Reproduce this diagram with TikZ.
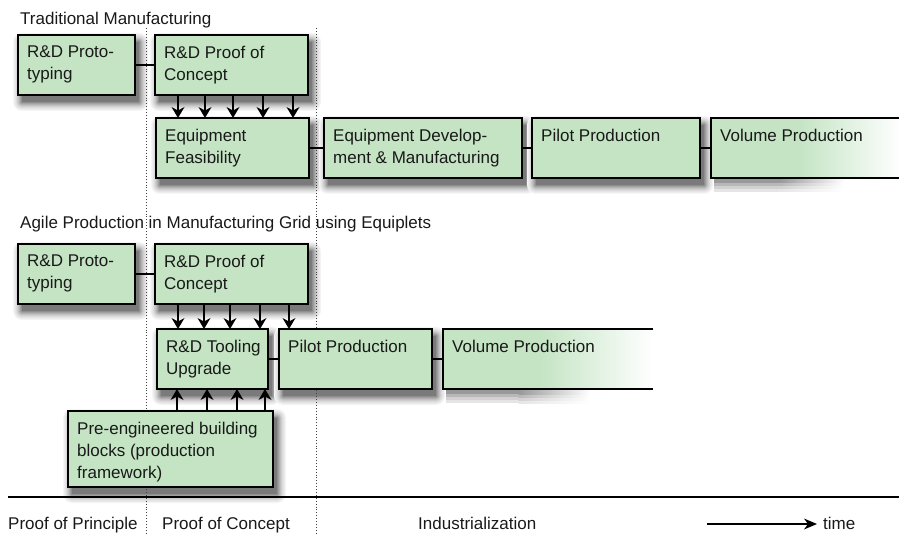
\documentclass[tikz,border=0pt]{standalone}
\usepackage{fontspec}
\setmainfont{Liberation Sans}
\usetikzlibrary{calc}
\definecolor{boxgreen}{RGB}{196,228,196}
\pgfdeclarehorizontalshading{fadegreen}{100bp}{color(0bp)=(boxgreen); color(25bp)=(boxgreen); color(48bp)=(boxgreen); color(75bp)=(white); color(100bp)=(white)}
\pgfdeclarelayer{background}
\pgfsetlayers{background,main}
\newcommand\boxshadow[1]{%
  \begin{pgfonlayer}{background}
  \foreach \e/\c in {9/4,8/7,7/10,6/14,5/19,4/24,3/30,2/37,1/44,0/52}
    \fill[black!\c, rounded corners=\e pt] ([shift={(4-\e,7-\e)}]#1.north west) rectangle ([shift={(4+\e,7+\e)}]#1.south east);
  \end{pgfonlayer}}
\newcommand\fadeshadow[1]{%
  \begin{pgfonlayer}{background}
  \foreach \h/\c in {14/10,11/18,8/28,5/40} {
    \fill[black!\c] ([xshift=3pt]#1.south west) rectangle ($(#1.south west)!0.36!(#1.south east)+(0,\h)$);
    \shade[left color=black!\c, right color=white] ($(#1.south west)!0.36!(#1.south east)$) rectangle ($(#1.south west)!0.7!(#1.south east)+(0,\h)$);
  }
  \end{pgfonlayer}}
% arrowheads drawn as filled concave triangles (tip at the given point)
\newcommand\tipdown[1]{\fill (#1) -- ++(-6.5,-11) -- ++(6.5,3.5) -- ++(6.5,-3.5) -- cycle;}
\newcommand\tipup[1]{\fill (#1) -- ++(-6.5,11) -- ++(6.5,-3.5) -- ++(6.5,3.5) -- cycle;}
\begin{document}
\begin{tikzpicture}[x=1pt,y=-1pt,
  box/.style={draw=black, line width=1.4pt, fill=boxgreen, rectangle, inner sep=0pt, outer sep=0pt, anchor=north west},
  fadebox/.style={rectangle, inner sep=0pt, outer sep=0pt, anchor=north west, shading=fadegreen},
  lbl/.style={anchor=north west, align=left, inner sep=0pt, xshift=9pt, yshift=-11pt, text=black!90, font=\fontsize{17}{22}\selectfont},
  link/.style={line width=1.4pt},
  shaft/.style={line width=1.5pt, shorten >=7pt},
  sep/.style={dotted, line width=0.9pt, black!75},
  txt/.style={anchor=base west, inner sep=0pt, text=black!90, font=\fontsize{17}{20}\selectfont}]
\useasboundingbox (0,0) rectangle (899,534);
% phase separators
\coordinate (s1t) at (146,28); \coordinate (s1b) at (146,534);
\coordinate (s2t) at (316,28); \coordinate (s2b) at (316,534);
\draw[sep] (s1t) -- (s1b);
\draw[sep] (s2t) -- (s2b);
% titles
\node[txt] (t1) at (20,25) {Traditional Manufacturing};
\node[txt] (t2) at (20,229) {Agile Production in Manufacturing Grid using Equiplets};
% row 1
\node[box, minimum width=117pt, minimum height=60pt, label={[lbl]north west:{R\&D Proto-\\typing}}] (A1) at (18,35) {};
\node[box, minimum width=153pt, minimum height=60pt, label={[lbl]north west:{R\&D Proof of\\Concept}}] (B1) at (155,35) {};
\node[box, minimum width=153pt, minimum height=60pt, label={[lbl]north west:{Equipment\\Feasibility}}] (C1) at (156,118) {};
\node[box, minimum width=198pt, minimum height=60pt, label={[lbl]north west:{Equipment Develop-\\ment \& Manufacturing}}] (D1) at (324,118) {};
\node[box, minimum width=168pt, minimum height=60pt, label={[lbl]north west:{Pilot Production}}] (E1) at (532,118) {};
\node[fadebox, minimum width=190pt, minimum height=60pt, label={[lbl]north west:{Volume Production}}] (F1) at (711,118) {};
\draw[link] (F1.north east) -- (F1.north west) -- (F1.south west) -- (F1.south east);
\foreach \n in {A1,B1,C1,D1,E1} {\boxshadow{\n}}
\fadeshadow{F1}
\draw[link] (A1.east) -- (B1.west);
\draw[link] (C1.east) -- (D1.west);
\draw[link] (D1.east) -- (E1.west);
\draw[link] (E1.east) -- (F1.west);
\foreach \x in {178,205,233,263,293} {
  \draw[shaft] (B1.south -| \x,0) -- (C1.north -| \x,0);
  \tipdown{C1.north -| \x,0}}
% row 2
\node[box, minimum width=117pt, minimum height=60pt, label={[lbl]north west:{R\&D Proto-\\typing}}] (A2) at (18,244) {};
\node[box, minimum width=153pt, minimum height=60pt, label={[lbl]north west:{R\&D Proof of\\Concept}}] (B2) at (155,244) {};
\node[box, minimum width=111pt, minimum height=60pt, label={[lbl]north west:{R\&D Tooling\\Upgrade}}] (C2) at (157,329) {};
\node[box, minimum width=153pt, minimum height=60pt, label={[lbl]north west:{Pilot Production}}] (D2) at (279,329) {};
\node[fadebox, minimum width=210pt, minimum height=60pt, label={[lbl]north west:{Volume Production}}] (E2) at (443,329) {};
\draw[link] (E2.north east) -- (E2.north west) -- (E2.south west) -- (E2.south east);
\node[box, minimum width=205pt, minimum height=76pt, label={[lbl]north west:{Pre-engineered building\\blocks (production\\framework)}}] (G2) at (68,411) {};
\foreach \n in {A2,B2,C2,D2,G2} {\boxshadow{\n}}
\fadeshadow{E2}
\draw[link] (A2.east) -- (B2.west);
\draw[link] (C2.east) -- (D2.west);
\draw[link] (D2.east) -- (E2.west);
\foreach \x in {178,204,230,260,289} {
  \draw[shaft] (B2.south -| \x,0) -- (C2.north -| \x,0);
  \tipdown{C2.north -| \x,0}}
\foreach \x in {177,207,237,265} {
  \draw[shaft] (G2.north -| \x,0) -- (C2.south -| \x,0);
  \tipup{C2.south -| \x,0}}
% time axis
\coordinate (r0) at (8,497); \coordinate (r1) at (899,497);
\draw[line width=1.4pt] (r0) -- (r1);
\node[txt] (p1) at (8,529) {Proof of Principle};
\node[txt] (p2) at (162,529) {Proof of Concept};
\node[txt] (p3) at (418,529) {Industrialization};
\node[txt] (tm) at (823,529) {time};
\coordinate (ta) at (707,524);
\coordinate (tb) at (817,524);
\draw[line width=1.4pt, shorten >=8pt] (ta) -- (tb);
\fill (tb) -- ++(-13,-5.5) -- ++(4,5.5) -- ++(-4,5.5) -- cycle;
\end{tikzpicture}
\end{document}
